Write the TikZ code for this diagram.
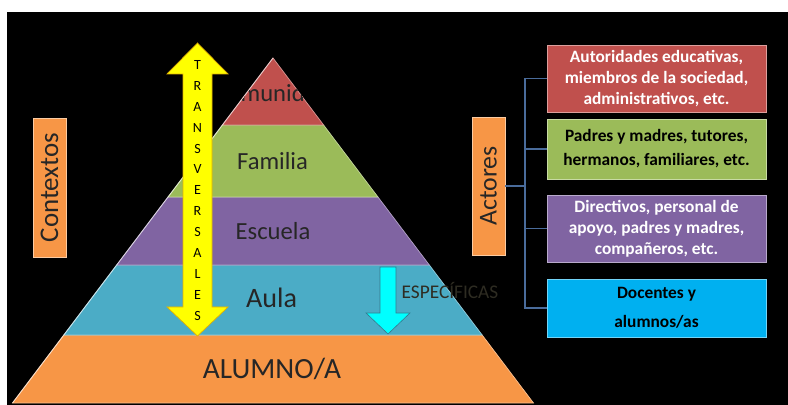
\documentclass[tikz,border=0pt]{standalone}
\usepackage{fontspec}
\setmainfont{Carlito}
\usepackage{xcolor}
\usetikzlibrary{calc}

\definecolor{rojo}{HTML}{C0504D}
\definecolor{verde}{HTML}{9BBB59}
\definecolor{morado}{HTML}{8064A2}
\definecolor{azul}{HTML}{4BACC6}
\definecolor{naranja}{HTML}{F79646}
\definecolor{celeste}{HTML}{00B0F0}
\definecolor{turquesa}{HTML}{00FFFF}
\definecolor{linea}{HTML}{4A6C9B}
\definecolor{oscuro}{HTML}{2E2C22}
\definecolor{amarillo}{HTML}{FFFF00}
\definecolor{borde}{HTML}{E0B000}

\tikzset{
  capa/.style={draw=white!40!#1, line width=0.6pt, fill=#1},
  nivel/.style={text=black!85, inner sep=0pt, font=\fontsize{21}{25}\selectfont},
  etiqueta/.style={draw=white!50!naranja, line width=0.8pt, fill=naranja, text=black!85, inner sep=0pt, minimum width=0.99cm},
  actor/.style={draw=white!45!#1, line width=0.8pt, fill=#1, minimum width=6.57cm, align=center, inner sep=0pt},
  conector/.style={draw=linea, line width=1.6pt},
}

\begin{document}
\begin{tikzpicture}[x=0.03cm,y=-0.03cm]
\useasboundingbox (0,0) rectangle (788,405);
\fill[white] (0,0) rectangle (788,405);
\fill[black] (7,12) rectangle (788,405);

% piramide
\coordinate (cima) at (273,58);
\coordinate (izq) at (12.5,403);
\coordinate (der) at (533.5,403);
\filldraw[capa=naranja] ($(cima)!0.8029!(izq)$) -- (izq) -- (der) -- ($(cima)!0.8029!(der)$) -- cycle;
\filldraw[capa=azul] ($(cima)!0.6!(izq)$) -- ($(cima)!0.8029!(izq)$) -- ($(cima)!0.8029!(der)$) -- ($(cima)!0.6!(der)$) -- cycle;
\filldraw[capa=morado] ($(cima)!0.4029!(izq)$) -- ($(cima)!0.6!(izq)$) -- ($(cima)!0.6!(der)$) -- ($(cima)!0.4029!(der)$) -- cycle;
\filldraw[capa=verde] ($(cima)!0.1942!(izq)$) -- ($(cima)!0.4029!(izq)$) -- ($(cima)!0.4029!(der)$) -- ($(cima)!0.1942!(der)$) -- cycle;
\filldraw[capa=rojo] (cima) -- ($(cima)!0.1942!(izq)$) -- ($(cima)!0.1942!(der)$) -- cycle;
\draw[white, opacity=0.55, line width=0.8pt] (cima) -- (izq);

\begin{scope}
\clip (cima) -- ($(cima)!0.1942!(izq)$) -- ($(cima)!0.1942!(der)$) -- cycle;
\node[nivel] (comunidad) at (272,93) {Comunidad};
\end{scope}
\node[nivel] (familia) at (272.5,161) {Familia};
\node[nivel] (escuela) at (273,231) {Escuela};
\node[nivel, font=\fontsize{24}{28}\selectfont] (aula) at (271.5,298) {Aula};
\node[nivel, font=\fontsize{25}{29}\selectfont] (alumno) at (272,369) {ALUMNO/A};

% flechas
\filldraw[fill=amarillo, draw=borde, line width=0.6pt] (197.5,43) -- (228,74) -- (212,74) -- (212,307) -- (228,307) -- (197.5,336) -- (167,307) -- (183,307) -- (183,74) -- (167,74) -- cycle;
\node[align=center, inner sep=0pt, font=\fontsize{12}{17.9}\selectfont] (transversales) at (197.5,190.5) {T\\R\\A\\N\\S\\V\\E\\R\\S\\A\\L\\E\\S};

\filldraw[fill=turquesa, draw=azul!70!black, line width=0.5pt] (380,267) -- (396,267) -- (396,313) -- (410,313) -- (388,334) -- (366,313) -- (380,313) -- cycle;
\node[text=oscuro, inner sep=0pt, font=\fontsize{16.5}{19}\selectfont] (especificas) at (450,290) {ESPECÍFICAS};

% etiquetas
\node[etiqueta, minimum height=4.17cm, font=\fontsize{23}{27}\selectfont] (contextos) at (49.5,187.5) {\rotatebox{90}{Contextos}};
\node[etiqueta, minimum height=4.14cm, font=\fontsize{22}{26}\selectfont] (actores) at (488.5,186) {\rotatebox{90}{Actores}};

% actores
\node[actor=rojo, text=white, minimum height=2.01cm, font=\bfseries\fontsize{14.8}{17.6}\selectfont] (autoridades) at (656.5,78.5) {Autoridades educativas,\\miembros de la sociedad,\\administrativos, etc.};
\node[actor=verde, text=black, minimum height=1.8cm, font=\bfseries\fontsize{14.8}{20.5}\selectfont] (padres) at (656.5,149) {Padres y madres, tutores,\\hermanos, familiares, etc.};
\node[actor=morado, text=white, minimum height=2.01cm, font=\bfseries\fontsize{14.8}{17.9}\selectfont] (directivos) at (656.5,228.5) {Directivos, personal de\\apoyo, padres y madres,\\compañeros, etc.};
\node[actor=celeste, text=black, minimum height=1.74cm, font=\bfseries\fontsize{14.8}{24.8}\selectfont] (docentes) at (656.5,308) {Docentes y\\alumnos/as};

\coordinate (rama) at (525,186);
\draw[conector] (autoridades.west) -| (rama) |- (docentes.west);
\draw[conector] (padres.west) -- (padres.west -| rama);
\draw[conector] (directivos.west) -- (directivos.west -| rama);
\draw[conector] (actores.east) -- (rama);
\end{tikzpicture}
\end{document}
